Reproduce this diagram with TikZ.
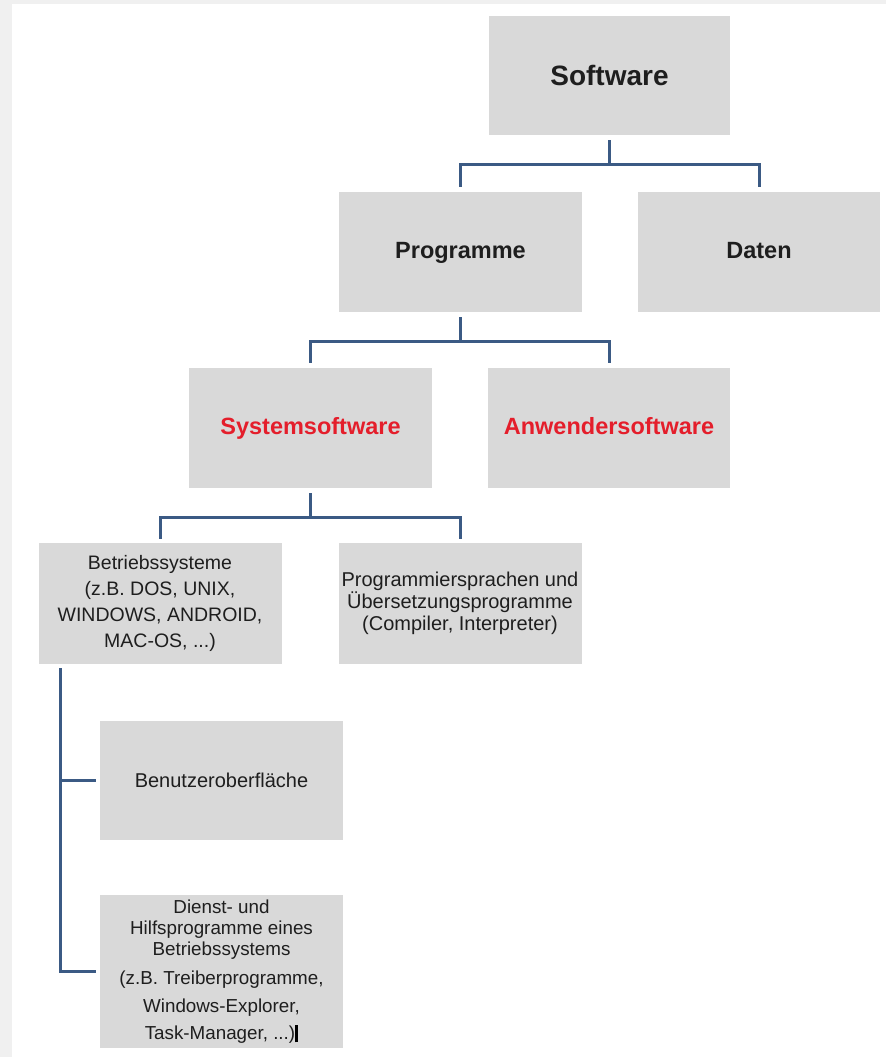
\documentclass[tikz,border=0pt]{standalone}
\usepackage{fontspec}
\setmainfont{Liberation Sans}
\definecolor{boxgray}{HTML}{D9D9D9}
\definecolor{linkblue}{HTML}{3B5A84}
\definecolor{redtxt}{HTML}{E41E2B}
\definecolor{bandgray}{HTML}{F0F0F0}
\definecolor{txtdark}{HTML}{1E1E1E}
\tikzset{
  box/.style={fill=boxgray, draw=none, inner sep=0pt, minimum width=243pt, minimum height=120pt, align=center, text=txtdark},
  big/.style={box, font=\bfseries\fontsize{28}{32}\selectfont},
  mid/.style={box, font=\bfseries\fontsize{23.5}{28}\selectfont, text height=17pt, text depth=5pt},
  redmid/.style={mid, text=redtxt},
  small/.style={box, font=\fontsize{19.5}{26}\selectfont},
  conn/.style={draw=linkblue, line width=3pt}
}
\begin{document}
\begin{tikzpicture}[x=1pt,y=-1pt]
\useasboundingbox (0,0) rectangle (886,1057);
\fill[white] (0,0) rectangle (886,1057);
\fill[bandgray] (0,0) rectangle (886,4);
\fill[bandgray] (0,0) rectangle (12,1057);

\node[big, minimum width=241pt, minimum height=119pt] (sw) at (609.5,75.5) {Software};
\node[mid] (prog) at (460.5,252) {Programme};
\node[mid, minimum width=242pt] (daten) at (759,252) {Daten};
\node[redmid] (sys) at (310.5,428) {Systemsoftware};
\node[redmid, minimum width=242pt] (anw) at (609,428) {Anwendersoftware};
\node[small, minimum height=121pt] (bs) at (160,603.5) {Betriebssysteme\\(z.B. DOS, UNIX,\\WINDOWS, ANDROID,\\MAC-OS, ...)};
\node[box, font=\fontsize{20}{22}\selectfont, minimum height=121pt] (ps) at (460,603.5) {Programmiersprachen und\\Übersetzungsprogramme\\(Compiler, Interpreter)};
\node[box, font=\fontsize{20}{24}\selectfont, minimum height=119pt] (bo) at (221.5,780.5) {Benutzeroberfläche};
\node[box, font=\fontsize{18.8}{21}\selectfont, minimum height=153pt] (dh) at (221.5,971.5) {Dienst- und\\Hilfsprogramme eines\\Betriebssystems\\[8pt](z.B. Treiberprogramme,\\[7pt]Windows-Explorer,\\[6pt]Task-Manager, ...)\textcolor{black}{\rule[-3pt]{3pt}{17pt}}};

% Software -> Programme, Daten
\draw[conn] ([yshift=-5pt]sw.south) -- ([yshift=-29pt]sw.south);
\draw[conn] ([yshift=5pt]prog.north) |- ([yshift=-29pt]sw.south) -| ([yshift=5pt]daten.north);
% Programme -> Systemsoftware, Anwendersoftware
\draw[conn] ([yshift=-5pt]prog.south) -- ([yshift=-29pt]prog.south);
\draw[conn] ([yshift=5pt]sys.north) |- ([yshift=-29pt]prog.south) -| ([yshift=5pt]anw.north);
% Systemsoftware -> Betriebssysteme, Programmiersprachen
\draw[conn] ([yshift=-5pt]sys.south) -- ([yshift=-29pt]sys.south);
\draw[conn] ([yshift=4pt]bs.north) |- ([yshift=-29pt]sys.south) -| ([yshift=4pt]ps.north);
% Betriebssysteme -> Benutzeroberflaeche, Dienstprogramme
\coordinate (brtop) at ([xshift=22pt,yshift=-4pt]bs.south west);
\draw[conn] (brtop) |- ([xshift=-4pt]dh.west);
\draw[conn] (brtop |- bo.west) -- ([xshift=-4pt]bo.west);
\end{tikzpicture}
\end{document}
